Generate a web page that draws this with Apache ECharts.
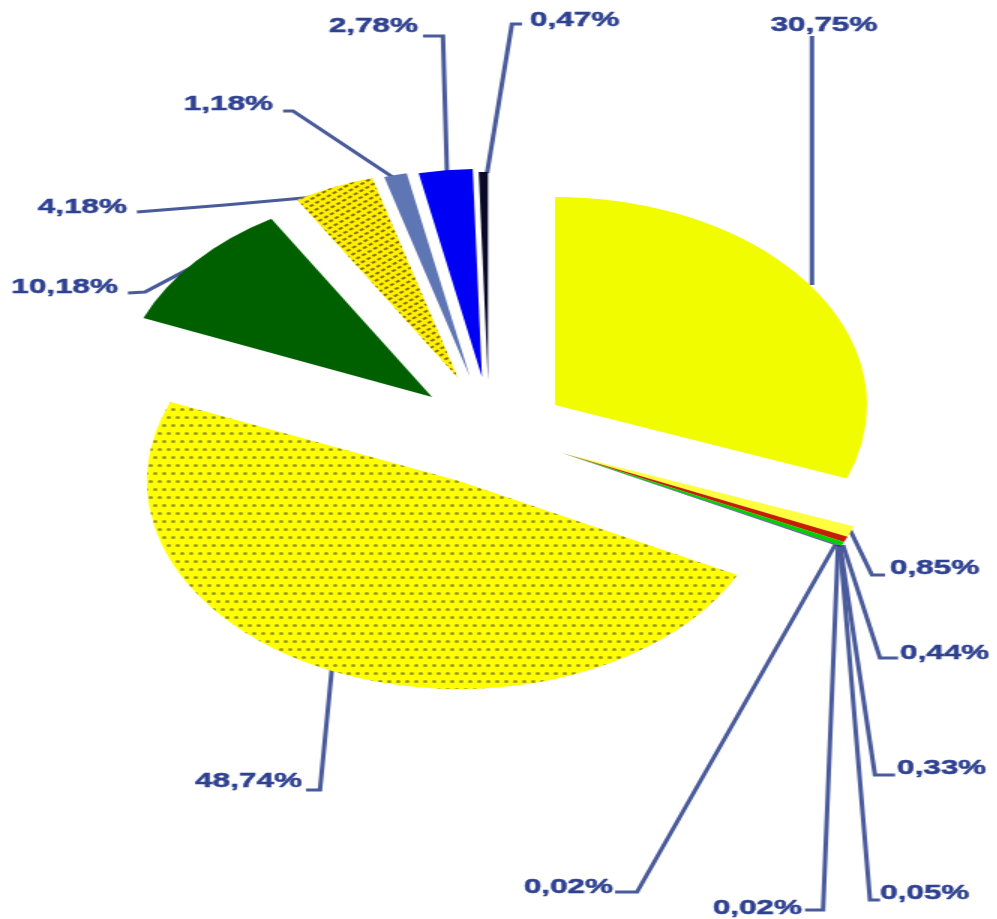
<!DOCTYPE html>
<html>
<head>
<meta charset="utf-8">
<script src="https://cdn.jsdelivr.net/npm/echarts@6/dist/echarts.min.js"></script>
<style>
html,body{margin:0;padding:0;background:#fff;overflow:hidden}
#wrap{width:997px;height:919px;overflow:hidden;position:relative}
#chart{width:664.667px;height:919px;transform:scaleX(1.5);transform-origin:0 0}
</style>
</head>
<body>
<div id="wrap"><div id="chart"></div></div>
<script>
// ---- data (clockwise from 12 o'clock) ----
const categories = ['s1','s2','s3','s4','s5','s6','s7','s8','s9','s10','s11','s12','s13'];
const values = [30.75, 0.85, 0.44, 0.33, 0.05, 0.02, 0.02, 48.74, 10.18, 4.18, 1.18, 2.78, 0.47];

// ---- styles ----
const sliceColors = ['#F2FC00','#FFFF40','#C81E00','#00D000','#1A2A80','#6A006A','#203070',
                     '#FFFF00','#006000','#FFF200','#5F76B4','#0000F5','#0A0A28'];
const decals = {
  7: {symbol:'circle', symbolSize:1, color:'rgba(110,105,55,0.7)',
      dashArrayX:[[2.4,2.27],[0,2.33,2.34,0]], dashArrayY:[2.8,4.5]},
  9: {symbol:'rect', symbolSize:1, color:'rgba(125,95,0,0.9)', rotation:-0.7,
      dashArrayX:[3,2], dashArrayY:[1.6,2.4]}
};

// ---- layout: exploded groups (chart px, before the 1.5x horizontal stretch) ----
const R = 208;
const groups = [
  {members:[0], center:[370,405]},
  {members:[1,2,3,4,5,6], center:[374.7,453]},
  {members:[7], center:[306,481]},
  {members:[8], center:[288,397]},
  {members:[9], center:[305.3,378]},
  {members:[10], center:[313.3,377]},
  {members:[11], center:[321.3,377]},
  {members:[12], center:[325.3,380]}
];
// label anchors and leader lines
const labelSpec = {
  0:{x:549.3,y:25,align:'center',line:[[541.3,285],[541.3,160],[541.3,36]]},
  1:{x:593.3,y:568,align:'left',line:[[566.7,530],[581.3,575],[590,575]]},
  2:{x:600,y:653,align:'left',line:[[562,545],[586.7,658],[598.7,658]]},
  3:{x:598,y:768,align:'left',line:[[560,545],[583.3,775],[596.7,775]]},
  4:{x:586.7,y:893,align:'left',line:[[560,545],[580,900],[586.7,900]]},
  5:{x:534.7,y:908,align:'right',line:[[558.7,545],[548.7,910],[536.7,910]]},
  6:{x:408.7,y:887,align:'right',line:[[556.7,545],[424.7,892],[410,892]]},
  7:{x:201.3,y:781,align:'right',line:[[221.3,668],[213.3,790],[204,790]]},
  8:{x:78.7,y:287,align:'right',line:[[133.3,263],[96.7,292],[85.3,293]]},
  9:{x:84.7,y:207,align:'right',line:[[224.7,195],[150,205],[91.3,212]]},
  10:{x:182,y:104,align:'right',line:[[264.7,180],[195.3,111],[188.7,111]]},
  11:{x:278.7,y:26,align:'right',line:[[298,173],[295.3,36],[282,36]]},
  12:{x:353.3,y:20,align:'left',line:[[324.7,173],[341.3,24],[348,24]]}
};

const fmt = p => p.value.toFixed(2).replace('.', ',') + '%';

const series = groups.map(g => ({
  type:'pie',
  center:g.center,
  radius:[0,R],
  startAngle:90,
  clockwise:true,
  avoidLabelOverlap:false,
  animation:false,
  silent:true,
  emphasis:{disabled:true},
  label:{show:true, formatter:fmt, color:'#2E4190', fontSize:21, fontWeight:'bold',
         fontFamily:'Liberation Sans', textBorderColor:'#2E4190', textBorderWidth:0.5},
  labelLine:{show:true, smooth:false, lineStyle:{color:'#4A5B9B', width:3}},
  labelLayout:function(p){
    const L = labelSpec[p.dataIndex];
    if (!L || g.members.indexOf(p.dataIndex) < 0) return {};
    return {x:L.x, y:L.y, align:L.align, verticalAlign:'middle', labelLinePoints:L.line};
  },
  data: values.map((v,i) => {
    const on = g.members.indexOf(i) >= 0;
    if (!on) return {value:v, name:categories[i], itemStyle:{color:'rgba(0,0,0,0)'},
                     label:{show:false}, labelLine:{show:false}};
    const it = {value:v, name:categories[i], itemStyle:{color:sliceColors[i]}};
    if (decals[i]) it.itemStyle.decal = decals[i];
    return it;
  })
}));

const chart = echarts.init(document.getElementById('chart'), null, {renderer:'canvas'});
chart.setOption({backgroundColor:'#ffffff', animation:false, series:series});
</script>
</body>
</html>
